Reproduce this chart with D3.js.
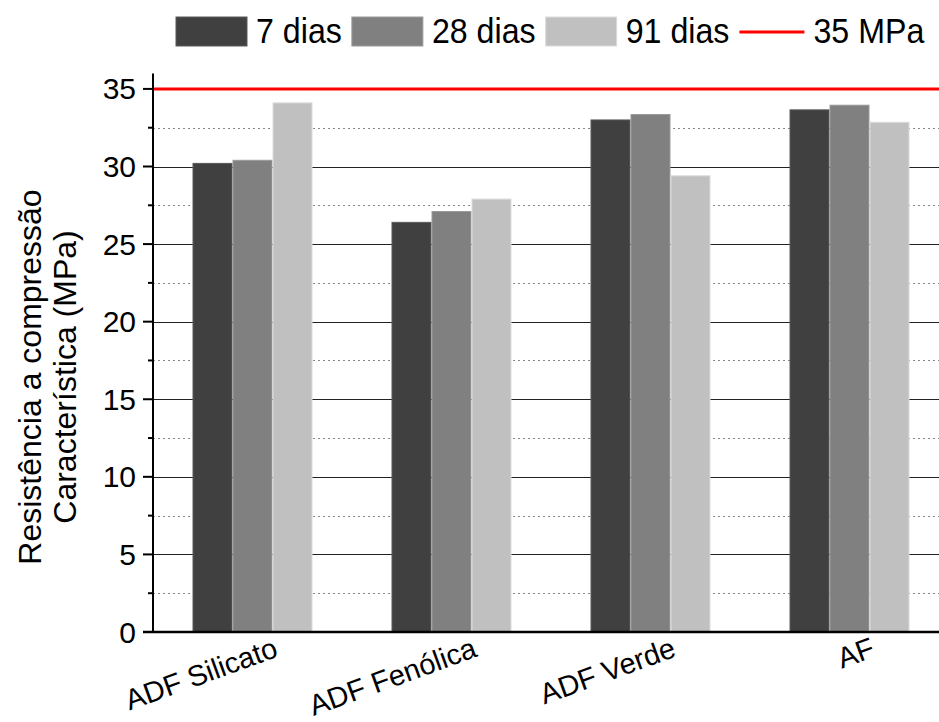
<!DOCTYPE html>
<html>
<head>
<meta charset="utf-8">
<script src="https://cdn.jsdelivr.net/npm/d3@7/dist/d3.min.js"></script>
<style>
  html, body { margin: 0; padding: 0; background: #fff; }
  svg { display: block; font-family: "Liberation Sans", Arial, sans-serif; }
</style>
</head>
<body>
<svg id="chart" width="939" height="722"></svg>
<script>
// ---- data ----
const categories = ["ADF Silicato", "ADF Fenólica", "ADF Verde", "AF"];
const seriesNames = ["7 dias", "28 dias", "91 dias"];
const values7 = [30.2, 26.4, 33.0, 33.65];
const values28 = [30.4, 27.1, 33.35, 33.95];
const values91 = [34.1, 27.9, 29.4, 32.85];
const refValue = 35;
const refLabel = "35 MPa";
const yTickValues = [0, 5, 10, 15, 20, 25, 30, 35];
const yMinorValues = [2.5, 7.5, 12.5, 17.5, 22.5, 27.5, 32.5];
const yTitleLines = ["Resistência a compressão", "Característica (MPa)"];
const seriesColors = ["#404040", "#808080", "#c0c0c0"];
const seriesStrokes = ["#5a5a5a", "#9a9a9a", "#dcdcdc"];

(function () {
// ---- layout ----
const svg = d3.select("#chart");
const pLeft = 153, pRight = 939, pBottom = 632, pTop = 73.4;

const x = d3.scaleBand().domain(categories).range([pLeft, 949]).padding(0);
const groupW = 120;
const x1 = d3.scaleBand().domain(seriesNames).range([0, groupW]).padding(0);
const y = d3.scaleLinear().domain([0, 36]).range([pBottom, pTop]);

const table = categories.map((c, i) => ({
  cat: c,
  vals: [values7[i], values28[i], values91[i]]
}));

// gridlines
const grid = svg.append("g");
grid.selectAll("line.minor").data(yMinorValues).join("line")
  .attr("x1", pLeft).attr("x2", pRight)
  .attr("y1", d => Math.round(y(d)) + 0.5).attr("y2", d => Math.round(y(d)) + 0.5)
  .attr("stroke", "#888").attr("stroke-width", 1).attr("stroke-dasharray", "2,3");
grid.selectAll("line.major").data(yTickValues.filter(v => v > 0 && v < refValue)).join("line")
  .attr("x1", pLeft).attr("x2", pRight)
  .attr("y1", d => Math.round(y(d)) + 0.5).attr("y2", d => Math.round(y(d)) + 0.5)
  .attr("stroke", "#222").attr("stroke-width", 1);

// reference line
svg.append("line")
  .attr("x1", pLeft).attr("x2", pRight)
  .attr("y1", y(refValue)).attr("y2", y(refValue))
  .attr("stroke", "#ff0000").attr("stroke-width", 3);

// bars
const groups = svg.append("g").selectAll("g").data(table).join("g")
  .attr("transform", d => `translate(${x(d.cat) + x.bandwidth() / 2 - groupW / 2},0)`);
groups.selectAll("rect").data(d => d.vals.map((v, k) => ({ v, k }))).join("rect")
  .attr("x", d => x1(seriesNames[d.k]) + 0.5)
  .attr("width", x1.bandwidth() - 1)
  .attr("y", d => y(d.v))
  .attr("height", d => pBottom - y(d.v))
  .attr("fill", d => seriesColors[d.k])
  .attr("stroke", d => seriesStrokes[d.k])
  .attr("stroke-width", 1);

// y axis
const yAxisG = svg.append("g").attr("transform", `translate(${pLeft},0)`);
yAxisG.append("line").attr("x1", 0).attr("x2", 0).attr("y1", pTop).attr("y2", pBottom + 1)
  .attr("stroke", "#000").attr("stroke-width", 2);
yAxisG.selectAll("line.mt").data(yTickValues).join("line")
  .attr("x1", -10).attr("x2", 0).attr("y1", d => y(d)).attr("y2", d => y(d))
  .attr("stroke", "#000").attr("stroke-width", 2);
yAxisG.selectAll("line.nt").data(yMinorValues).join("line")
  .attr("x1", -5).attr("x2", 0).attr("y1", d => y(d)).attr("y2", d => y(d))
  .attr("stroke", "#000").attr("stroke-width", 2);
yAxisG.selectAll("text").data(yTickValues).join("text")
  .attr("x", -17).attr("y", d => y(d)).attr("dy", "0.35em")
  .attr("text-anchor", "end").attr("font-size", 30).attr("fill", "#000")
  .text(d => d);

// x axis
const xAxisG = svg.append("g");
xAxisG.append("line").attr("x1", pLeft - 10).attr("x2", pRight).attr("y1", pBottom).attr("y2", pBottom)
  .attr("stroke", "#000").attr("stroke-width", 2.5);
xAxisG.selectAll("text").data(categories).join("text")
  .attr("text-anchor", "end").attr("font-size", 29).attr("fill", "#000")
  .attr("transform", d => `translate(${x(d) + x.bandwidth() / 2 + 27},656) rotate(-20)`)
  .text(d => d);

// y title
const yt = svg.append("text")
  .attr("transform", "translate(0,377) rotate(-90)")
  .attr("text-anchor", "middle").attr("font-size", 32).attr("fill", "#000");
yt.selectAll("tspan").data(yTitleLines).join("tspan")
  .attr("x", 0).attr("y", (d, i) => 41 + i * 35)
  .text(d => d);

// legend
const legend = svg.append("g");
const legendItems = seriesNames.map((s, i) => ({ label: s, type: "rect", color: seriesColors[i], stroke: seriesStrokes[i] }))
  .concat([{ label: refLabel, type: "line", color: "#ff0000" }]);
let lx = 176;
const sx = 0.92;
legendItems.forEach((it) => {
  const sw = it.type === "rect" ? 71 : 65;
  if (it.type === "rect") {
    legend.append("rect").attr("x", lx).attr("y", 17).attr("width", sw).attr("height", 29)
      .attr("fill", it.color).attr("stroke", it.stroke).attr("stroke-width", 1);
  } else {
    legend.append("line").attr("x1", lx).attr("x2", lx + sw).attr("y1", 32).attr("y2", 32)
      .attr("stroke", it.color).attr("stroke-width", 3);
  }
  const tx = lx + sw + 9;
  const t = legend.append("text")
    .attr("transform", `translate(${tx},43) scale(${sx},1)`)
    .attr("font-size", 35).attr("fill", "#000").text(it.label);
  const w = t.node().getComputedTextLength() * sx;
  lx = tx + w + 10;
});
})();
</script>
</body>
</html>
